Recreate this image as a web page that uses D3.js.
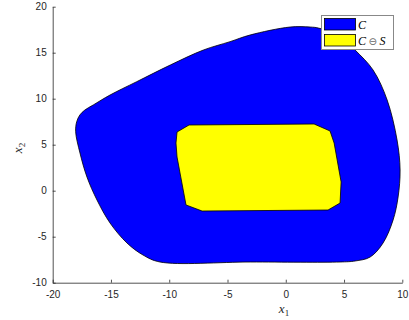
<!DOCTYPE html>
<html>
<head>
<meta charset="utf-8">
<script src="https://cdn.jsdelivr.net/npm/d3@7"></script>
<style>
  html, body { margin: 0; padding: 0; background: #fff; }
  svg { display: block; }
  .tick text { font-family: "Liberation Sans", Arial, sans-serif; font-size: 10px; fill: #262626; }
</style>
</head>
<body>
<svg id="chart" width="409" height="320"></svg>
<script>
// Outer set C (boundary, x1 values / x2 values, clockwise)
const outerX1 = [-18.03, -17.94, -17.67, -17.24, -16.52, -15.08, -12.79, -9.91, -7.07, -4.78, -3.07, 0.37, 2.09, 2.80, 4.66, 5.95, 7.49, 8.70, 9.55, 9.81, 9.64, 9.21, 8.35, 7.24, 5.95, 4.66, -3.0, -10.79, -12.25, -13.63, -15.08, -16.20, -17.06, -17.66];
const outerX2 = [6.41, 7.50, 8.23, 8.77, 9.32, 10.40, 11.85, 13.66, 15.29, 16.20, 16.92, 17.79, 17.79, 17.68, 16.80, 15.29, 13.12, 9.86, 5.51, 2.25, -0.68, -3.18, -5.68, -7.21, -7.64, -7.75, -7.75, -7.75, -6.99, -5.68, -3.51, -1.01, 1.49, 4.10];

// Inner set C ⊖ S (polygon vertices)
const innerX1 = [-8.30, 2.43, 3.80, 4.15, 4.75, 4.66, 3.63, -7.18, -8.56, -9.33, -9.42, -9.33];
const innerX2 = [7.14, 7.25, 6.49, 5.18, 0.95, -1.34, -2.10, -2.21, -1.55, 3.66, 5.18, 6.38];

const xTicks = [-20, -15, -10, -5, 0, 5, 10];
const yTicks = [-10, -5, 0, 5, 10, 15, 20];
const legendLabels = ["C", "C ⊖ S"];
const fillColors = ["#0000ff", "#ffff00"];

const svg = d3.select("#chart");
const x = d3.scaleLinear().domain([-20, 10]).range([52.7, 402.3]);
const y = d3.scaleLinear().domain([-10, 20]).range([282.7, 6.7]);

const zip = (a, b) => a.map((v, i) => [v, b[i]]);

const smooth = d3.line().x(d => x(d[0])).y(d => y(d[1])).curve(d3.curveCatmullRomClosed.alpha(0.5));
const poly = d3.line().x(d => x(d[0])).y(d => y(d[1])).curve(d3.curveLinearClosed);

svg.append("path")
  .attr("d", smooth(zip(outerX1, outerX2)))
  .attr("fill", fillColors[0])
  .attr("stroke", "#000")
  .attr("stroke-width", 0.8);

svg.append("path")
  .attr("d", poly(zip(innerX1, innerX2)))
  .attr("fill", fillColors[1])
  .attr("stroke", "#000")
  .attr("stroke-width", 0.8);

// Axes (ticks pointing inward, plain hyphen for negatives)
const fmt = v => String(v);
const gx = svg.append("g").attr("transform", `translate(0,${y(-10)})`)
  .call(d3.axisBottom(x).tickValues(xTicks).tickFormat(fmt).tickSizeInner(-3).tickSizeOuter(0).tickPadding(6));
const gy = svg.append("g").attr("transform", `translate(${x(-20)},0)`)
  .call(d3.axisLeft(y).tickValues(yTicks).tickFormat(fmt).tickSizeInner(-3).tickSizeOuter(0).tickPadding(6));
[gx, gy].forEach(g => {
  g.select(".domain").attr("stroke", "#262626").attr("stroke-width", 0.8);
  g.selectAll(".tick line").attr("stroke", "#262626").attr("stroke-width", 0.8);
});
gx.selectAll(".tick text").attr("dy", "0.9em");

// Axis labels
const lab1 = svg.append("text")
  .attr("x", 284).attr("y", 313)
  .attr("text-anchor", "middle")
  .attr("font-family", "'Liberation Serif', 'DejaVu Serif', serif")
  .attr("font-size", 13).attr("fill", "#262626");
lab1.append("tspan").attr("font-style", "italic").text("x");
lab1.append("tspan").attr("font-size", 9).attr("dy", 3).text("1");

const lab2 = svg.append("text")
  .attr("transform", "translate(22,148) rotate(-90)")
  .attr("text-anchor", "middle")
  .attr("font-family", "'Liberation Serif', 'DejaVu Serif', serif")
  .attr("font-size", 13).attr("fill", "#262626");
lab2.append("tspan").attr("font-style", "italic").text("x");
lab2.append("tspan").attr("font-size", 9).attr("dy", 3).text("2");

// Legend
const lg = svg.append("g");
lg.append("rect").attr("x", 321.5).attr("y", 15.5).attr("width", 72).attr("height", 34)
  .attr("fill", "#fff").attr("stroke", "#888").attr("stroke-width", 1);
legendLabels.forEach((t, i) => {
  lg.append("rect").attr("x", 324.5).attr("y", 18.5 + i * 16).attr("width", 31).attr("height", 11.5)
    .attr("fill", fillColors[i]).attr("stroke", "#000").attr("stroke-width", 0.8);
  const tx = lg.append("text").attr("x", 358).attr("y", 28.5 + i * 16)
    .attr("font-family", "'Liberation Serif', 'DejaVu Serif', serif")
    .attr("font-size", 12).attr("fill", "#000");
  if (i === 0) {
    tx.append("tspan").attr("font-style", "italic").text("C");
  } else {
    tx.append("tspan").attr("font-style", "italic").text("C");
    tx.append("tspan").attr("font-family", "'DejaVu Sans', sans-serif").attr("font-size", 10).attr("fill", "#666").attr("dx", 2.5).text("⊖");
    tx.append("tspan").attr("font-style", "italic").attr("dx", 2.5).text("S");
  }
});
</script>
</body>
</html>
